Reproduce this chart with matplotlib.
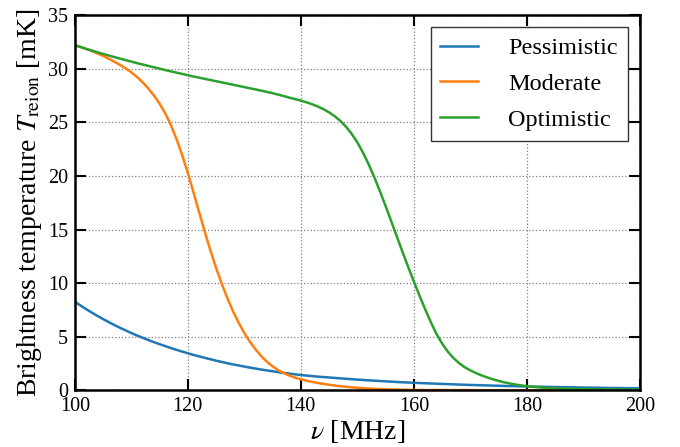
import matplotlib
matplotlib.use("Agg")
import matplotlib.pyplot as plt
import numpy as np

# frequency grid [MHz], 1 MHz steps
freq = np.arange(100, 201)

# brightness temperature for the three reionization scenarios [mK]
pessimistic = [
    8.26, 7.91, 7.57, 7.25, 6.94, 6.64, 6.36, 6.09, 5.83, 5.58,
    5.34, 5.11, 4.90, 4.69, 4.49, 4.30, 4.12, 3.94, 3.77, 3.61,
    3.45, 3.30, 3.16, 3.02, 2.89, 2.76, 2.64, 2.52, 2.41, 2.31,
    2.21, 2.11, 2.02, 1.93, 1.85, 1.77, 1.69, 1.62, 1.55, 1.48,
    1.42, 1.37, 1.32, 1.27, 1.23, 1.19, 1.15, 1.11, 1.07, 1.03,
    0.99, 0.96, 0.92, 0.89, 0.86, 0.83, 0.80, 0.77, 0.74, 0.72,
    0.69, 0.67, 0.65, 0.63, 0.61, 0.59, 0.57, 0.55, 0.53, 0.51,
    0.49, 0.48, 0.46, 0.45, 0.43, 0.42, 0.40, 0.39, 0.38, 0.36,
    0.35, 0.34, 0.33, 0.32, 0.31, 0.30, 0.29, 0.28, 0.27, 0.26,
    0.25, 0.24, 0.24, 0.23, 0.22, 0.21, 0.21, 0.20, 0.19, 0.19,
    0.18]
moderate = [
    32.20, 32.04, 31.86, 31.66, 31.44, 31.20, 30.94, 30.66, 30.36, 30.04,
    29.67, 29.24, 28.74, 28.17, 27.51, 26.75, 25.85, 24.75, 23.45, 21.95,
    20.27, 18.47, 16.62, 14.79, 13.04, 11.42, 9.94, 8.59, 7.37, 6.29,
    5.34, 4.52, 3.80, 3.18, 2.66, 2.23, 1.88, 1.59, 1.36, 1.17,
    1.02, 0.89, 0.78, 0.68, 0.59, 0.51, 0.44, 0.38, 0.32, 0.27,
    0.23, 0.19, 0.16, 0.13, 0.11, 0.09, 0.07, 0.06, 0.05, 0.04,
    0.03, 0.03, 0.02, 0.02, 0.02, 0.01, 0.01, 0.01, 0.01, 0.01,
    0.01, 0.00, 0.00, 0.00, 0.00, 0.00, 0.00, 0.00, 0.00, 0.00,
    0.00, 0.00, 0.00, 0.00, 0.00, 0.00, 0.00, 0.00, 0.00, 0.00,
    0.00, 0.00, 0.00, 0.00, 0.00, 0.00, 0.00, 0.00, 0.00, 0.00,
    0.00]
optimistic = [
    32.20, 32.03, 31.86, 31.70, 31.54, 31.39, 31.24, 31.09, 30.95, 30.81,
    30.67, 30.53, 30.40, 30.27, 30.14, 30.01, 29.88, 29.76, 29.64, 29.52,
    29.40, 29.28, 29.17, 29.06, 28.95, 28.84, 28.73, 28.62, 28.51, 28.40,
    28.29, 28.18, 28.07, 27.96, 27.84, 27.72, 27.59, 27.45, 27.30, 27.17,
    27.03, 26.87, 26.69, 26.48, 26.23, 25.93, 25.57, 25.13, 24.59, 23.93,
    23.13, 22.18, 21.09, 19.88, 18.57, 17.19, 15.77, 14.33, 12.90, 11.50,
    10.15, 8.83, 7.56, 6.36, 5.26, 4.36, 3.61, 3.01, 2.53, 2.15,
    1.85, 1.60, 1.38, 1.19, 1.02, 0.87, 0.74, 0.63, 0.53, 0.45,
    0.38, 0.32, 0.27, 0.23, 0.20, 0.17, 0.15, 0.13, 0.12, 0.11,
    0.10, 0.09, 0.08, 0.08, 0.07, 0.07, 0.06, 0.06, 0.06, 0.05,
    0.05]

plt.rcParams['font.family'] = ['Liberation Serif', 'DejaVu Serif']
plt.rcParams['mathtext.fontset'] = 'stix'

fig = plt.figure(figsize=(6.8, 4.47), dpi=100)
ax = fig.add_axes([0.110, 0.127, 0.831, 0.839])

ax.plot(freq, pessimistic, color='#1f77b4', lw=1.8, label='Pessimistic')
ax.plot(freq, moderate, color='#ff7f0e', lw=1.8, label='Moderate')
ax.plot(freq, optimistic, color='#2ca02c', lw=1.8, label='Optimistic')

ax.set_xlim(100, 200)
ax.set_ylim(0, 35)
ax.set_xticks(np.arange(100, 201, 20))
ax.set_yticks(np.arange(0, 36, 5))
ax.grid(True, linestyle=':', color='gray', lw=0.9)

ax.tick_params(direction='in', length=8, width=1.5, top=True, right=True,
               labelsize=14.5, pad=5)
for s in ax.spines.values():
    s.set_linewidth(1.8)

ax.set_xlabel(r'$\nu$ [MHz]', fontsize=20, labelpad=1)
ax.set_ylabel(r'Brightness temperature $T_{\rm reion}$ [mK]', fontsize=20, labelpad=3)

leg = ax.legend(loc='upper right', fontsize=17.5, fancybox=False, framealpha=1,
                edgecolor='#333333', handlelength=1.55, handletextpad=1.25,
                labelspacing=0.57, borderpad=0.4, borderaxespad=0.5)
leg.get_frame().set_linewidth(1.0)

fig.savefig('out.png', dpi=100)
